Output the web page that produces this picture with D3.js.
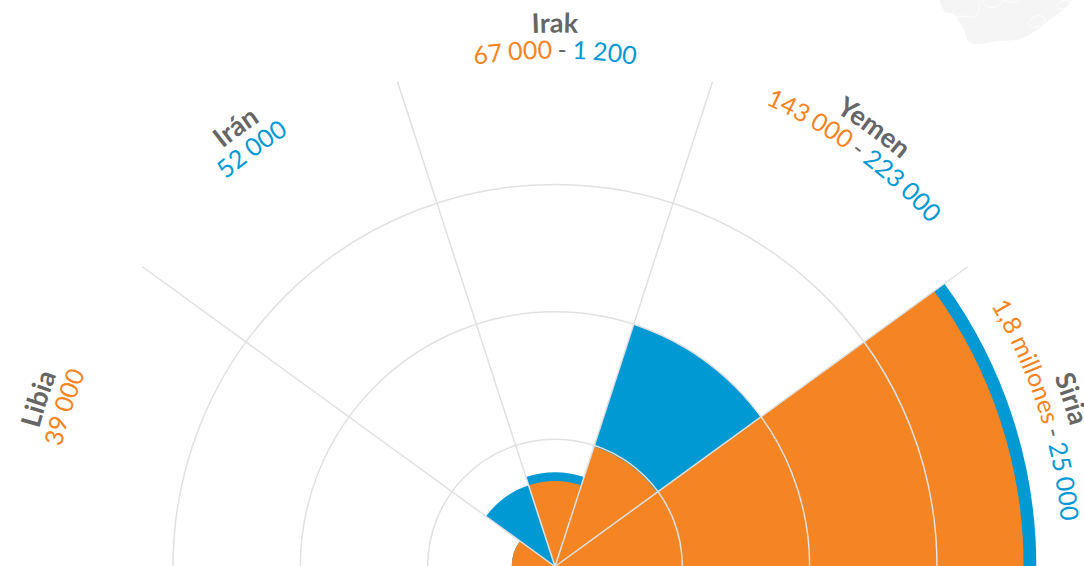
<!DOCTYPE html>
<html><head><meta charset="utf-8">
<script src="https://cdn.jsdelivr.net/npm/d3@7/dist/d3.min.js"></script>
<style>html,body{margin:0;padding:0;background:#fff;overflow:hidden}svg{display:block}text{font-family:Lato,sans-serif}</style>
</head><body><svg id="c" width="1084" height="566"></svg>
<script>
// Sectors run clockwise from the left of the half circle
const categories = ["Libia", "Irán", "Irak", "Yemen", "Siria"];
// Reach of each band in rings (the chart's radial grid units)
const orangeReach = [0.34, 0, 0.67, 0.99, 3.68];
const blueReach   = [0.34, 0.67, 0.74, 2.0, 3.78];
// Printed labels
const orangeLabels = ["39 000", "", "67 000", "143 000", "1,8 millones"];
const blueLabels   = ["", "52 000", "1 200", "223 000", "25 000"];
const ringTicks = [1, 2, 3];

const ORANGE = "#f58423", BLUE = "#0099d3", GREY = "#666666", GRID = "#e1e1e1";
const W = 1084, H = 566, cx = 555, cy = 566.5;
const svg = d3.select("#c");
const deg = d => d * Math.PI / 180;

const band = d3.scaleBand().domain(categories).range([deg(-90), deg(90)]);
const r = d3.scaleLinear().domain([0, 3]).range([0, 382]);

// faint map decoration in the top right corner
const mapOutline = [[938,-4],[945,12],[953,14],[965,32],[968,41],[977,44],[997,41],[1020,39],[1037,30],[1053,17],[1067,7],[1073,-4]];
svg.append("path").attr("d", d3.line().curve(d3.curveCatmullRom)(mapOutline)).attr("fill", "#f5f5f5");
const mapBorders = [
  [[953,14],[958,17],[966,16],[975,17],[979,10],[978,0]],
  [[982,0],[986,6],[996,7],[1003,1],[1010,2],[1018,2],[1020,-2]],
  [[1028,23],[1034,17],[1042,16],[1045,20],[1039,26],[1031,27],[1028,23]],
  [[1057,5],[1062,1],[1070,2],[1067,7],[1059,9],[1057,5]]
];
svg.append("g").selectAll("path").data(mapBorders).join("path")
  .attr("d", d3.line().curve(d3.curveCatmullRom)).attr("fill", "none").attr("stroke", "#fff").attr("stroke-width", 1);

const g = svg.append("g").attr("transform", `translate(${cx},${cy})`);
const arc = d3.arc();
const wedge = (rad, cat) => arc({innerRadius: 0, outerRadius: r(rad),
  startAngle: band(cat), endAngle: band(cat) + band.bandwidth()});

g.append("g").selectAll("path").data(categories).join("path")
  .attr("d", (c, i) => wedge(blueReach[i], c)).attr("fill", BLUE);
g.append("g").selectAll("path").data(categories).join("path")
  .attr("d", (c, i) => wedge(orangeReach[i], c)).attr("fill", ORANGE);

// grid
g.append("g").selectAll("circle").data(ringTicks).join("circle")
  .attr("r", d => r(d)).attr("fill", "none").attr("stroke", GRID).attr("stroke-width", 1.5);
const spokeLen = r(4.005);
g.append("g").selectAll("line").data(categories.slice(1)).join("line")
  .attr("x2", c => spokeLen * Math.sin(band(c)))
  .attr("y2", c => -spokeLen * Math.cos(band(c)))
  .attr("stroke", GRID).attr("stroke-width", 1.5);

// curved labels
const defs = svg.append("defs");
function arcPath(id, cat, radius) {
  const mid = band(cat) + band.bandwidth() / 2 - Math.PI / 2;
  const p = d3.path();
  p.arc(cx, cy, radius, mid - deg(45), mid + deg(45));
  defs.append("path").attr("id", id).attr("d", p.toString());
}
categories.forEach((c, i) => {
  arcPath("n" + i, c, 534);
  arcPath("v" + i, c, 508);
  svg.append("text").attr("font-size", 27).attr("font-weight", 700).attr("fill", GREY)
    .append("textPath").attr("href", "#n" + i).attr("startOffset", "50%").attr("text-anchor", "middle").text(c);
  const tp = svg.append("text").attr("font-size", 25).attr("font-weight", 400).attr("word-spacing", -1)
    .append("textPath").attr("href", "#v" + i).attr("startOffset", "50%").attr("text-anchor", "middle");
  if (orangeLabels[i]) tp.append("tspan").attr("fill", ORANGE).text(orangeLabels[i]);
  if (orangeLabels[i] && blueLabels[i]) tp.append("tspan").attr("fill", GREY).text(" - ");
  if (blueLabels[i]) tp.append("tspan").attr("fill", BLUE).text(blueLabels[i]);
});

// clipped remnant of the text above the crop
svg.append("text").attr("x", 186).attr("y", -3).attr("font-size", 20).attr("fill", GREY).text("p");
</script></body></html>
